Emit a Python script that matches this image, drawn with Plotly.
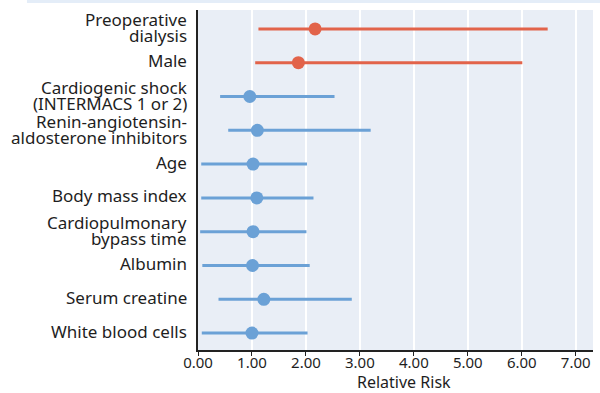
import plotly.graph_objects as go

labels = ["Preoperative<br>dialysis", "Male", "Cardiogenic shock<br>(INTERMACS 1 or 2)",
          "Renin-angiotensin-<br>aldosterone inhibitors", "Age", "Body mass index",
          "Cardiopulmonary<br>bypass time", "Albumin", "Serum creatine", "White blood cells"]
rr = [2.17, 1.86, 0.96, 1.10, 1.02, 1.09, 1.02, 1.01, 1.22, 1.00]
ci_low = [1.12, 1.06, 0.41, 0.56, 0.06, 0.06, 0.04, 0.08, 0.38, 0.07]
ci_high = [6.48, 6.01, 2.53, 3.20, 2.02, 2.14, 2.01, 2.07, 2.85, 2.03]
significant = [True, True, False, False, False, False, False, False, False, False]
x_ticks = [0, 1, 2, 3, 4, 5, 6, 7]
x_tick_text = ["0.00", "1.00", "2.00", "3.00", "4.00", "5.00", "6.00", "7.00"]
x_title = "Relative Risk"

RED = "#E2634A"
BLUE = "#6BA1D6"
FONT = "Noto Sans"

fig = go.Figure()
for flag, color in [(False, BLUE), (True, RED)]:
    idx = [i for i, s in enumerate(significant) if s == flag]
    fig.add_trace(go.Scatter(
        x=[rr[i] for i in idx],
        y=[labels[i] for i in idx],
        mode="markers",
        marker=dict(color=color, size=13),
        error_x=dict(type="data", symmetric=False,
                     array=[ci_high[i] - rr[i] for i in idx],
                     arrayminus=[rr[i] - ci_low[i] for i in idx],
                     color=color, thickness=3, width=0),
        showlegend=False, hoverinfo="skip",
    ))

annotations = []
for lab in labels:
    parts = lab.split("<br>")
    n = len(parts)
    for k, p in enumerate(parts):
        shift = 2 if n == 1 else (9 if k == 0 else -7)
        annotations.append(dict(x=0, xref="paper", y=lab, yref="y", text=p,
                                showarrow=False, xanchor="right", yanchor="middle",
                                xshift=-9, yshift=shift,
                                font=dict(family=FONT, size=17, color="#1e1e1e")))
annotations.append(dict(x=0.5, xref="paper", y=0, yref="paper", text=x_title,
                        showarrow=False, xanchor="center", yanchor="middle",
                        xshift=8, yshift=-32,
                        font=dict(family=FONT, size=16, color="#1e1e1e")))

fig.update_layout(
    width=600, height=393,
    margin=dict(l=198, r=7, t=10, b=43),
    paper_bgcolor="white",
    plot_bgcolor="#E9EEF6",
    font=dict(family=FONT, size=15, color="#1e1e1e"),
    annotations=annotations,
    shapes=[
        dict(type="line", xref="x", yref="paper", x0=1, x1=1, y0=0, y1=1,
             line=dict(color="#999999", width=1.3, dash="dash"), layer="below"),
        dict(type="rect", xref="paper", yref="paper", x0=-0.433, x1=1.02,
             y0=1.0206, y1=1.035, fillcolor="#E4EDF8", line=dict(width=0)),
    ],
)
fig.update_xaxes(range=[0, 7.32], tickvals=x_ticks, ticktext=x_tick_text,
                 showgrid=True, gridcolor="white", gridwidth=1.5,
                 showline=True, linecolor="#222", linewidth=1.5,
                 ticks="outside", ticklen=4, tickcolor="#222",
                 tickfont=dict(size=15, family=FONT), automargin=False,
                 ticklabelstandoff=-6,
                 zeroline=False)
fig.update_yaxes(type="category", categoryarray=labels, range=[9.5, -0.56],
                 showticklabels=False, showgrid=False, zeroline=False, automargin=False,
                 showline=True, linecolor="#222", linewidth=1.5, ticks="")

fig.write_html("out.html", config={"displayModeBar": False},
               post_script="document.body.style.margin='0';document.body.style.overflow='hidden';")
